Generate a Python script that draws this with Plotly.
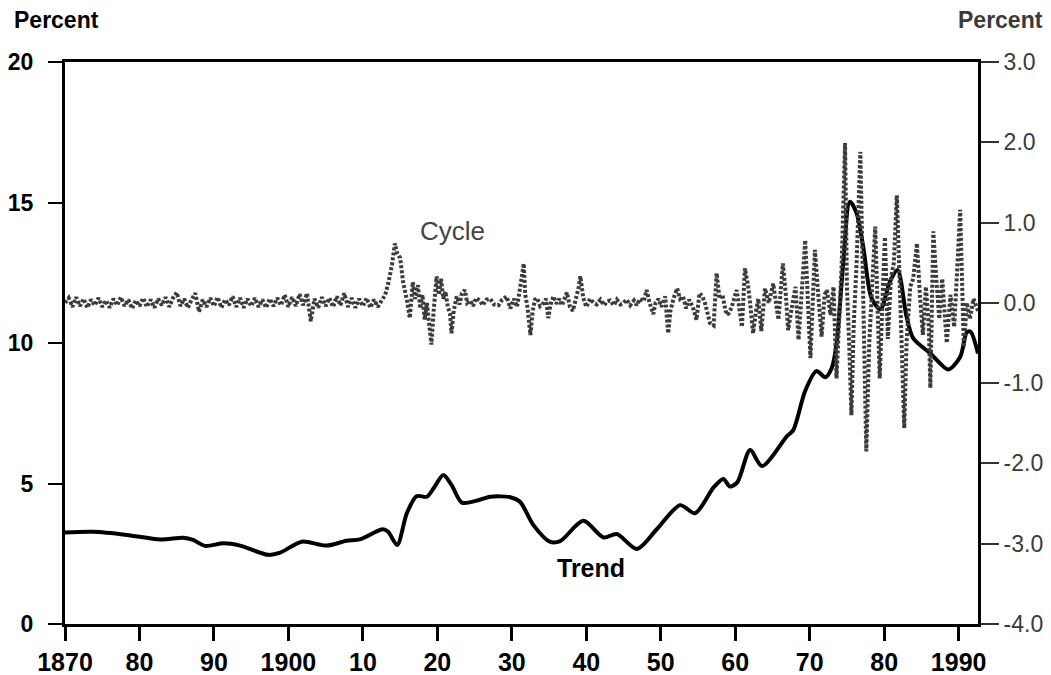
import plotly.graph_objects as go

# ---------------- data ----------------
trend_years = [1870.0, 1873.8, 1878.3, 1882.8, 1885.9, 1887.2, 1888.8, 1891.3, 1893.5, 1897.3,
               1898.9, 1901.8, 1905.1, 1907.8, 1909.6, 1912.7, 1913.4, 1914.6, 1915.9, 1917.2,
               1918.6, 1919.5, 1920.8, 1921.9, 1923.3, 1925.3, 1927.1, 1929.8, 1931.1, 1932.9,
               1935.1, 1936.5, 1939.6, 1942.3, 1944.1, 1946.8, 1949.5, 1952.6, 1954.6, 1957.1,
               1958.4, 1959.3, 1960.3, 1962.0, 1963.6, 1966.9, 1967.8, 1969.4, 1970.9, 1972.1,
               1973.0, 1973.6, 1974.5, 1975.4, 1976.3, 1977.2, 1978.3, 1979.5, 1980.8, 1981.8,
               1983.0, 1983.9, 1986.2, 1988.6, 1990.2, 1991.1, 1991.6, 1992.6]
trend_values = [3.26, 3.28, 3.17, 3.01, 3.07, 2.99, 2.78, 2.87, 2.79, 2.46,
                2.54, 2.93, 2.79, 2.96, 3.01, 3.37, 3.28, 2.81, 3.94, 4.55,
                4.53, 4.83, 5.30, 4.95, 4.32, 4.39, 4.53, 4.51, 4.35, 3.52,
                2.93, 2.95, 3.67, 3.08, 3.20, 2.67, 3.38, 4.23, 3.94, 4.86,
                5.16, 4.89, 5.05, 6.19, 5.62, 6.67, 6.90, 8.30, 9.00, 8.78,
                9.14, 9.96, 12.84, 15.03, 14.62, 13.40, 11.60, 11.20, 12.20, 12.60,
                10.94, 10.17, 9.63, 9.06, 9.50, 10.38, 10.40, 9.63]

# cycle, half-yearly readings 1870.0 - 1912.5
cycle_early_start = 1870.0
cycle_early_step = 0.5
cycle_early_values = [0.00, 0.06, -0.05, 0.07, -0.04, 0.05, -0.06, 0.04, -0.03, 0.06,
                      -0.05, 0.03, -0.06, 0.05, -0.03, 0.07, -0.04, 0.04, -0.07, 0.03,
                      -0.04, 0.06, -0.05, 0.04, -0.06, 0.05, -0.03, 0.07, -0.05, 0.06,
                      0.13, -0.04, 0.05, -0.06, 0.04, 0.12, -0.11, 0.04, -0.05, 0.06,
                      -0.04, 0.07, -0.06, 0.04, -0.03, 0.08, -0.05, 0.06, -0.06, 0.05,
                      -0.04, 0.06, -0.05, 0.04, -0.06, 0.05, -0.04, 0.06, -0.03, 0.10,
                      -0.05, 0.07, -0.04, 0.11, -0.03, 0.12, -0.23, 0.05, -0.06, 0.07,
                      -0.04, 0.06, -0.05, 0.08, -0.03, 0.12, -0.05, 0.06, -0.06, 0.05,
                      -0.04, 0.06, -0.06, 0.04, -0.05, 0.02]

# cycle, turning points 1912.7 - 1992.6
cycle_late_years = [1912.7, 1913.0, 1913.4, 1913.9, 1914.3, 1914.6, 1915.0, 1915.2, 1915.4, 1915.9,
                    1916.3, 1916.7, 1917.0, 1917.4, 1917.7, 1918.0, 1918.3, 1918.6, 1918.9, 1919.2,
                    1919.5, 1919.9, 1920.2, 1920.5, 1920.8, 1921.1, 1921.4, 1921.7, 1921.9, 1922.2,
                    1922.6, 1923.0, 1923.3, 1923.7, 1924.0, 1924.4, 1924.8, 1925.2, 1925.7, 1926.1,
                    1926.6, 1927.1, 1927.6, 1928.2, 1928.7, 1929.3, 1929.8, 1930.3, 1930.7, 1931.0,
                    1931.3, 1931.6, 1931.8, 1932.1, 1932.5, 1932.8, 1933.1, 1933.4, 1933.8, 1934.3,
                    1934.6, 1934.9, 1935.2, 1935.6, 1936.0, 1936.4, 1936.7, 1937.0, 1937.4, 1937.8,
                    1938.2, 1938.6, 1939.0, 1939.2, 1939.6, 1940.0, 1940.5, 1941.0, 1941.4, 1941.9,
                    1942.4, 1942.8, 1943.2, 1943.7, 1944.1, 1944.6, 1945.0, 1945.4, 1945.9, 1946.4,
                    1946.8, 1947.2, 1947.7, 1948.1, 1948.5, 1949.0, 1949.3, 1949.7, 1950.1, 1950.6,
                    1951.0, 1951.3, 1951.7, 1952.2, 1952.6, 1953.0, 1953.4, 1953.8, 1954.3, 1954.8,
                    1955.2, 1955.6, 1956.0, 1956.6, 1957.1, 1957.5, 1957.9, 1958.3, 1958.7, 1959.0,
                    1959.5, 1960.2, 1960.9, 1961.3, 1961.7, 1962.0, 1962.4, 1962.8, 1963.1, 1963.5,
                    1964.0, 1964.5, 1965.1, 1965.8, 1966.4, 1966.8, 1967.1, 1967.7, 1968.1, 1968.5,
                    1968.9, 1969.4, 1970.1, 1970.7, 1971.1, 1971.6, 1972.0, 1972.3, 1972.8, 1973.2,
                    1973.6, 1974.0, 1974.3, 1974.75, 1975.0, 1975.3, 1975.6, 1975.9, 1976.3, 1976.8,
                    1977.1, 1977.4, 1977.6, 1978.0, 1978.4, 1978.8, 1979.1, 1979.4, 1979.8, 1980.1,
                    1980.5, 1980.9, 1981.3, 1981.7, 1982.0, 1982.3, 1982.7, 1983.0, 1983.5, 1983.9,
                    1984.4, 1984.8, 1985.2, 1985.6, 1986.0, 1986.2, 1986.6, 1987.0, 1987.4, 1987.8,
                    1988.4, 1988.9, 1989.4, 1989.8, 1990.2, 1990.7, 1991.1, 1991.5, 1992.0, 1992.6]
cycle_late_values = [0.04, 0.10, 0.24, 0.47, 0.74, 0.62, 0.56, 0.41, 0.26, 0.04,
                     -0.19, 0.26, 0.05, 0.22, -0.07, 0.10, -0.21, 0.00, -0.30, -0.52,
                     -0.10, 0.33, 0.10, 0.30, 0.05, 0.14, -0.05, -0.13, -0.38, -0.10,
                     0.08, -0.02, 0.12, 0.16, 0.00, 0.03, -0.04, 0.06, 0.03, -0.03,
                     0.04, 0.05, -0.02, -0.03, 0.04, 0.08, -0.07, 0.05, -0.05, 0.10,
                     0.30, 0.49, 0.10, -0.05, -0.40, -0.10, 0.04, 0.06, -0.04, 0.00,
                     0.05, -0.19, -0.02, 0.08, -0.01, 0.05, -0.03, 0.03, 0.13, -0.05,
                     -0.10, 0.05, 0.20, 0.33, 0.06, -0.05, 0.05, 0.00, -0.02, 0.04,
                     -0.03, 0.02, 0.03, -0.03, 0.04, -0.02, 0.00, 0.04, -0.03, 0.03,
                     -0.03, 0.05, 0.02, 0.16, 0.00, -0.14, 0.00, 0.05, -0.05, 0.08,
                     -0.38, -0.10, 0.05, 0.18, 0.05, 0.08, -0.07, 0.04, -0.05, -0.21,
                     0.12, 0.08, -0.02, -0.25, -0.28, 0.37, 0.05, 0.10, -0.10, -0.15,
                     -0.06, 0.16, -0.30, 0.43, 0.23, 0.00, -0.38, -0.10, 0.05, -0.35,
                     0.18, 0.00, 0.24, -0.21, 0.49, 0.10, -0.34, 0.00, 0.20, -0.46,
                     0.10, 0.78, -0.69, 0.66, 0.16, -0.42, 0.10, 0.16, -0.15, 0.20,
                     -0.94, -0.20, 0.50, 1.99, 0.20, -0.50, -1.40, -0.30, 0.50, 1.88,
                     0.30, -0.80, -1.85, -0.50, 0.20, 0.95, 0.00, -0.94, 0.10, 0.82,
                     -0.45, 0.30, 0.50, 1.34, 0.50, -0.40, -1.56, -0.50, 0.20, 0.30,
                     0.74, 0.10, -0.40, 0.20, -0.30, -1.06, 0.89, 0.30, -0.20, 0.30,
                     -0.50, 0.10, -0.30, 0.40, 1.16, -0.55, 0.00, -0.20, 0.05, -0.10]

x_tick_vals = [1870, 1880, 1890, 1900, 1910, 1920, 1930, 1940, 1950, 1960, 1970, 1980, 1990]
x_tick_text = ["1870", "80", "90", "1900", "10", "20", "30", "40", "50", "60", "70", "80", "1990"]
left_tick_vals = [0, 5, 10, 15, 20]
right_tick_vals = [-4, -3, -2, -1, 0, 1, 2, 3]
right_tick_text = ["-4.0", "-3.0", "-2.0", "-1.0", "0.0", "1.0", "2.0", "3.0"]

# ---------------- figure ----------------
cycle_years = [cycle_early_start + i * cycle_early_step for i in range(len(cycle_early_values))] + cycle_late_years
cycle_values = cycle_early_values + cycle_late_values

FONT = "Liberation Sans, Arial, Helvetica, sans-serif"

fig = go.Figure()
fig.add_trace(go.Scatter(
    x=cycle_years, y=cycle_values, yaxis="y2", mode="lines",
    line=dict(color="#3c3c3c", width=4, dash="3px,2px"),
    hoverinfo="skip", showlegend=False))
fig.add_trace(go.Scatter(
    x=trend_years, y=trend_values, mode="lines",
    line=dict(color="#000000", width=4, shape="spline", smoothing=0.8),
    hoverinfo="skip", showlegend=False))

# page body has an 8px default margin, so the figure is 8px smaller and offset
fig.update_layout(
    width=1043, height=667,
    margin=dict(l=57, r=73, t=54, b=51, autoexpand=False),
    paper_bgcolor="white", plot_bgcolor="white",
    font=dict(family=FONT, color="black"),
    xaxis=dict(range=[1870, 1992.6], tickvals=x_tick_vals, ticktext=x_tick_text, automargin=False,
               showgrid=False, zeroline=False, showline=True, linecolor="black", linewidth=3,
               mirror=True, ticks="outside", ticklen=14, tickwidth=2.5, tickcolor="black",
               tickfont=dict(size=25, family=FONT, color="black", weight="bold")),
    yaxis=dict(range=[0, 20], tickvals=left_tick_vals, showgrid=False, zeroline=False, automargin=False,
               showline=True, linecolor="black", linewidth=3, ticks="outside", ticklen=14,
               tickwidth=2, tickcolor="black", ticklabelstandoff=10,
               tickfont=dict(size=23, family=FONT, color="black", weight="bold")),
    yaxis2=dict(range=[-4, 3], overlaying="y", side="right", tickvals=right_tick_vals, automargin=False,
                ticktext=right_tick_text, showgrid=False, zeroline=False, showline=True,
                linecolor="black", linewidth=3, ticks="outside", ticklen=18, tickwidth=2,
                tickcolor="#333", tickfont=dict(size=23, family=FONT, color="#3a3a3a")),
)

fig.add_annotation(xref="paper", yref="paper", x=-0.058, y=1.075, xanchor="left", yanchor="middle",
                   text="Percent", showarrow=False,
                   font=dict(size=23, family=FONT, color="black", weight="bold"))
fig.add_annotation(xref="paper", yref="paper", x=1.073, y=1.075, xanchor="right", yanchor="middle",
                   text="Percent", showarrow=False,
                   font=dict(size=23, family=FONT, color="#3a3a3a", weight="bold"))
fig.add_annotation(x=1922.0, y=0.89, yref="y2", text="Cycle", showarrow=False,
                   font=dict(size=26, family=FONT, color="#444"))
fig.add_annotation(x=1940.6, y=1.99, yref="y", text="Trend", showarrow=False,
                   font=dict(size=25, family=FONT, color="black", weight="bold"))

fig.write_html("out.html")
